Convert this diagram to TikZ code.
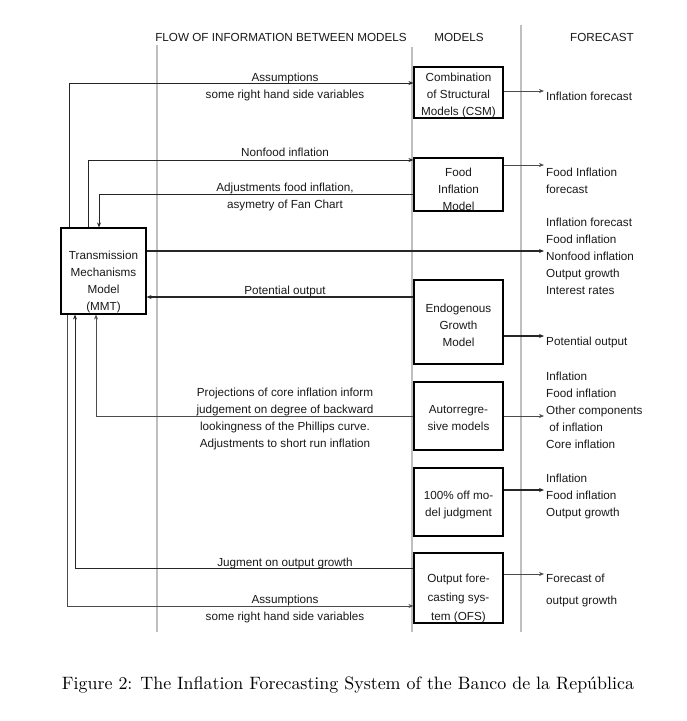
\documentclass[tikz,border=0pt]{standalone}
\usepackage{fontspec}
\usepackage{graphicx}
\setmainfont{Liberation Sans}
\newfontfamily\capfont{Latin Modern Roman}
\usetikzlibrary{arrows.meta}
\begin{document}
\begin{tikzpicture}[x=1pt,y=-1pt,
  txt/.style={font=\fontsize{11.7}{17}\selectfont, inner sep=0pt, align=center, text=black!90},
  ftxt/.style={txt, anchor=west, align=left},
  mbox/.style={draw, line width=1.1pt, minimum width=89pt, inner sep=0pt},
  ln/.style={line width=1pt, black!85},
  arr/.style={ln, -{Stealth[length=5pt,width=4pt]}},
  grid/.style={black!25, line width=1.2pt}
]
\useasboundingbox (0,0) rectangle (687,721);
% column separators
\draw[grid] (157,45) -- (157,632);
\draw[grid] (412,47) -- (412,632);
\draw[grid] (521,25) -- (521,632);
% headings
\node[txt] (h1) at (281,37) {FLOW OF INFORMATION BETWEEN MODELS};
\node[txt] (h2) at (459,37) {MODELS};
\node[txt] (h3) at (602,37) {FORECAST};
% model boxes
\node[mbox, minimum height=51pt] (csm) at (458.5,92.5) {};
\node[txt] (csmt) at (458.5,95) {Combination\\of Structural\\Models (CSM)};
\node[mbox, minimum height=53pt] (food) at (458.5,184.5) {};
\node[txt] (foodt) at (458.5,189) {Food\\Inflation\\Model};
\node[mbox, minimum height=84pt] (egm) at (458.5,322) {};
\node[txt] (egmt) at (458.5,325) {Endogenous\\Growth\\Model};
\node[mbox, minimum height=68pt] (auto) at (458.5,416) {};
\node[txt] (autot) at (458.5,418.5) {Autorregre-\\sive models};
\node[mbox, minimum height=68pt] (judg) at (458.5,502) {};
\node[txt] (judgt) at (458.5,505) {100\% off mo-\\del judgment};
\node[mbox, minimum height=70pt] (ofs) at (458.5,588) {};
\node[txt, font=\fontsize{11.7}{19}\selectfont] (ofst) at (458.5,598) {Output fore-\\casting sys-\\tem (OFS)};
% MMT
\node[draw, line width=1.1pt, minimum width=85pt, minimum height=86pt] (mmt) at (103.5,271) {};
\node[txt] (mmtt) at (103.5,281.5) {Transmission\\Mechanisms\\Model\\(MMT)};
% forecast texts
\node[ftxt] (f1) at (546,96) {Inflation forecast};
\node[ftxt] (f2) at (546,180.5) {Food Inflation\\forecast};
\node[ftxt] (f3) at (546,256.5) {Inflation forecast\\Food inflation\\Nonfood inflation\\Output growth\\Interest rates};
\node[ftxt] (f4) at (546,342) {Potential output};
\node[ftxt] (f5) at (546,410) {Inflation\\Food inflation\\Other components\\\ of inflation\\Core inflation};
\node[ftxt] (f6) at (546,496) {Inflation\\Food inflation\\Output growth};
\node[ftxt, font=\fontsize{11.7}{22}\selectfont] (f7) at (546,590) {Forecast of\\output growth};
% forecast arrow ends
\coordinate (e1) at (544,91);
\coordinate (e2) at (544,165);
\coordinate (e3) at (544,251);
\coordinate (e4) at (544,336);
\coordinate (e5) at (544,416);
\coordinate (e6) at (544,490);
\coordinate (e7) at (544,574);
\draw[arr, black!70] (e1 -| csm.east) -- (e1);
\draw[arr, black!70] (e2 -| food.east) -- (e2);
\draw[arr, line width=2pt] (e3 -| mmt.east) -- (e3);
\draw[arr, line width=1.5pt] (e4 -| egm.east) -- (e4);
\draw[arr, black!70] (e5 -| auto.east) -- (e5);
\draw[arr, line width=2pt] (e6 -| judg.east) -- (e6);
\draw[arr, black!70] (e7 -| ofs.east) -- (e7);
% flow corner points
\coordinate (ca) at (69,83);
\coordinate (cb) at (88,160);
\coordinate (cc) at (99,194);
\coordinate (cd) at (0,297);
\coordinate (ce) at (96,416);
\coordinate (cf) at (75,568);
\coordinate (cg) at (67,606);
\draw[arr] (mmt.north -| ca) |- (ca -| csm.west);
\draw[arr] (mmt.north -| cb) |- (cb -| food.west);
\draw[arr] (cc -| food.west) -| (mmt.north -| cc);
\draw[arr, line width=1.8pt] (cd -| egm.west) -- (cd -| mmt.east);
\draw[arr, black!70] (ce -| auto.west) -| (mmt.south -| ce);
\draw[arr] (cf -| ofs.west) -| (mmt.south -| cf);
\draw[arr, black!70] (mmt.south -| cg) |- (cg -| ofs.west);
% flow labels
\node[txt] (l1) at (285,87) {Assumptions\\some right hand side variables};
\node[txt] (l2) at (285,152) {Nonfood inflation};
\node[txt] (l3) at (285,197) {Adjustments food inflation,\\asymetry of Fan Chart};
\node[txt] (l4) at (285,291) {Potential output};
\node[txt] (l5) at (285,418.5) {Projections of core inflation inform\\judgement on degree of backward\\lookingness of the Phillips curve.\\Adjustments to short run inflation};
\node[txt] (l6) at (285,563) {Jugment on output growth};
\node[txt] (l7) at (285,609) {Assumptions\\some right hand side variables};
% caption
\node[inner sep=0pt] (cap) at (348,685) {\resizebox{572pt}{!}{\capfont Figure 2: The Inflation Forecasting System of the Banco de la Rep\'ublica}};
\end{tikzpicture}
\end{document}
